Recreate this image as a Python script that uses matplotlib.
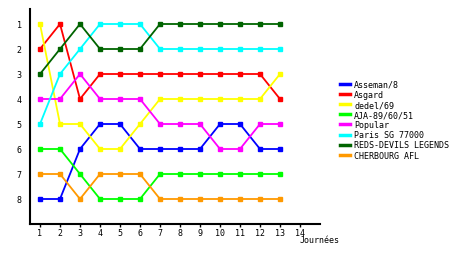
import matplotlib
matplotlib.use('Agg')
import matplotlib.pyplot as plt

# journees and rank of each team
journees = list(range(1, 14))
teams = ['Asseman/8', 'Asgard', 'dedel/69', 'AJA-89/60/51', 'Popular',
         'Paris SG 77000', 'REDS-DEVILS LEGENDS', 'CHERBOURG AFL']
colors = ['#0000ff', '#ff0000', '#ffff00', '#00ff00', '#ff00ff',
          '#00ffff', '#006400', '#ff9900']
asseman = [8, 8, 6, 5, 5, 6, 6, 6, 6, 5, 5, 6, 6]
asgard = [2, 1, 4, 3, 3, 3, 3, 3, 3, 3, 3, 3, 4]
dedel = [1, 5, 5, 6, 6, 5, 4, 4, 4, 4, 4, 4, 3]
aja = [6, 6, 7, 8, 8, 8, 7, 7, 7, 7, 7, 7, 7]
popular = [4, 4, 3, 4, 4, 4, 5, 5, 5, 6, 6, 5, 5]
paris = [5, 3, 2, 1, 1, 1, 2, 2, 2, 2, 2, 2, 2]
reds = [3, 2, 1, 2, 2, 2, 1, 1, 1, 1, 1, 1, 1]
cherbourg = [7, 7, 8, 7, 7, 7, 8, 8, 8, 8, 8, 8, 8]
ranks = [asseman, asgard, dedel, aja, popular, paris, reds, cherbourg]

plt.rcParams['font.family'] = 'DejaVu Sans Mono'
fig = plt.figure(figsize=(4.6, 2.55), dpi=100)
ax = fig.add_axes([30/460, 30/255, 290/460, 215/255])

for name, col, r in zip(teams, colors, ranks):
    ax.plot(journees, r, color=col, lw=1.3, marker='s', ms=2.5, label=name)

ax.set_xlim(0.5, 15)
ax.set_ylim(9, 0.4)
ax.set_xticks(range(1, 15))
ax.set_yticks(range(1, 9))
ax.tick_params(axis='x', labelsize=6, length=2, width=1, pad=1)
ax.tick_params(axis='y', labelsize=6, length=0, pad=6)
for s in ['top', 'right']:
    ax.spines[s].set_visible(False)
for s in ['left', 'bottom']:
    ax.spines[s].set_linewidth(1.5)

fig.text(300/460, 1 - 241/255, 'Journées', fontsize=6, va='center', ha='left')

leg = fig.legend(loc='upper left', bbox_to_anchor=(340/460, 1 - 81/255),
                 frameon=False, fontsize=6, handlelength=1.2, handletextpad=0.5,
                 labelspacing=0.13, borderpad=0, borderaxespad=0)
for h in leg.legend_handles:
    h.set_marker('')
    h.set_linewidth(2.5)

fig.savefig('out.png', dpi=100)
